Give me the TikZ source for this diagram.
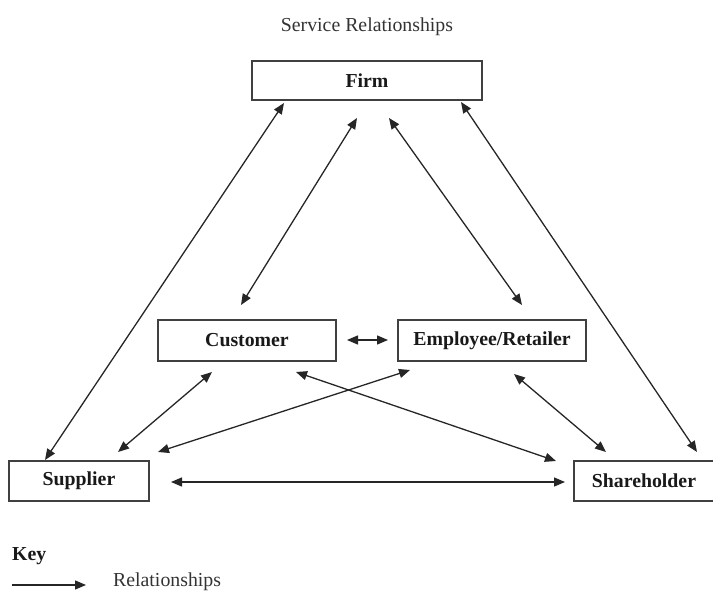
\documentclass[tikz,border=0pt]{standalone}
\usepackage{fontspec}
\setmainfont{Liberation Serif}
\usetikzlibrary{arrows.meta}
\begin{document}
\begin{tikzpicture}[x=1pt,y=-1pt,
  box/.style={draw=black!75,line width=1.3pt,fill=white,inner sep=0pt,font=\fontsize{19.8}{24}\selectfont\bfseries,text=black!90},
  rel/.style={line width=1.3pt,draw=black!85,{Triangle[length=11pt,width=9pt]}-{Triangle[length=11pt,width=9pt]}},
  lbl/.style={font=\fontsize{19.8}{24}\selectfont,text=black!80,inner sep=0pt}]
\useasboundingbox (0,0) rectangle (713,591);
\node[lbl] (title) at (367,27) {Service Relationships};
\node[box,minimum width=230pt,minimum height=39pt] (firm) at (367,80.5) {Firm};
\node[box,minimum width=178pt,minimum height=41pt] (cust) at (247,340.5) {Customer};
\node[box,minimum width=188pt,minimum height=41pt] (emp) at (492,340.5) {Employee/Retailer};
\node[box,minimum width=140pt,minimum height=40pt] (sup) at (79,481) {Supplier};
\node[box,minimum width=140pt,minimum height=40pt] (sha) at (644,481) {Shareholder};
% endpoints
\coordinate (f1) at (284,103); \coordinate (s1) at (45,460);
\coordinate (f2) at (357,118); \coordinate (c1) at (241,305);
\coordinate (f3) at (389,118); \coordinate (e1) at (522,305);
\coordinate (f4) at (461,102); \coordinate (h1) at (697,452);
\coordinate (c2) at (347,340); \coordinate (e2) at (388,340);
\coordinate (c3) at (212,372); \coordinate (s2) at (118,452);
\coordinate (e3) at (410,370); \coordinate (s3) at (158,452);
\coordinate (c4) at (296,372); \coordinate (h2) at (556,461);
\coordinate (e4) at (514,374); \coordinate (h3) at (606,452);
\coordinate (s4) at (171,482); \coordinate (h4) at (565,482);
\draw[rel] (f1) -- (s1);
\draw[rel] (f2) -- (c1);
\draw[rel] (f3) -- (e1);
\draw[rel] (f4) -- (h1);
\draw[rel] (c2) -- (e2);
\draw[rel] (c3) -- (s2);
\draw[rel] (e3) -- (s3);
\draw[rel] (c4) -- (h2);
\draw[rel] (e4) -- (h3);
\draw[rel] (s4) -- (h4);
% key
\node[lbl,font=\fontsize{19.8}{24}\selectfont\bfseries,text=black!90,anchor=west] (key) at (12,556) {Key};
\coordinate (k1) at (12,585); \coordinate (k2) at (86,585);
\draw[line width=1.3pt,draw=black!85,-{Triangle[length=11pt,width=9pt]}] (k1) -- (k2);
\node[lbl,anchor=base west] (krel) at (113,586) {Relationships};
\end{tikzpicture}
\end{document}
